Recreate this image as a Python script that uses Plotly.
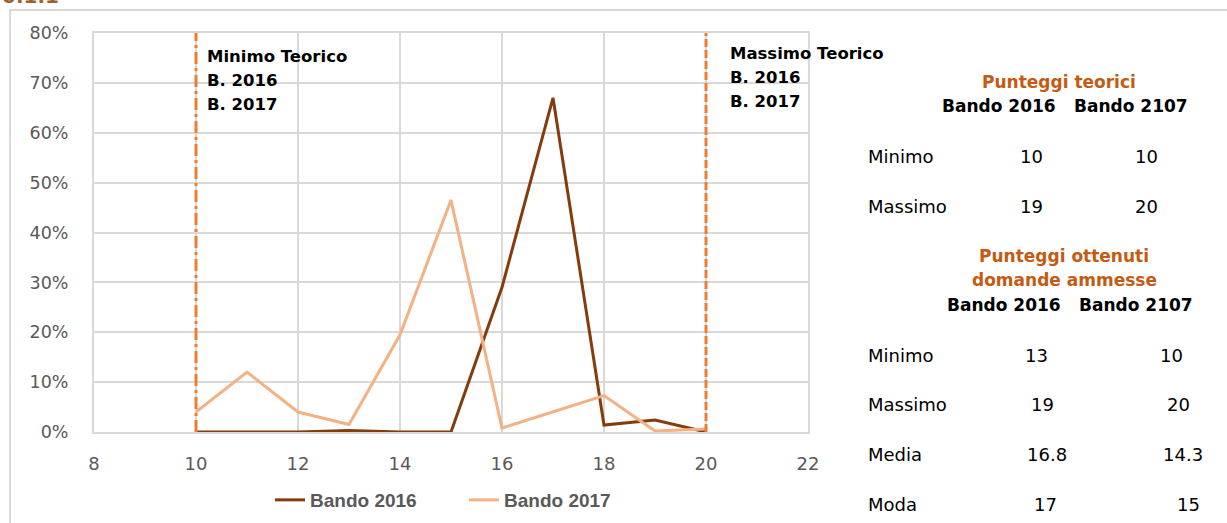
import plotly.graph_objects as go

# ---------------- data ----------------
scores = [10, 11, 12, 13, 14, 15, 16, 17, 18, 19, 20]
bando_2016 = [0.0, 0.0, 0.0, 0.003, 0.0, 0.0, 0.29, 0.67, 0.014, 0.024, 0.0]
bando_2017 = [0.04, 0.12, 0.04, 0.015, 0.195, 0.465, 0.008, 0.04, 0.073, 0.002, 0.006]

min_teorico = 10
max_teorico = 20

x_ticks = [8, 10, 12, 14, 16, 18, 20, 22]
y_ticks = [0, 0.1, 0.2, 0.3, 0.4, 0.5, 0.6, 0.7, 0.8]

min_label = ["Minimo Teorico", "B. 2016", "B. 2017"]
max_label = ["Massimo Teorico", "B. 2016", "B. 2017"]

table_cols = ["Bando 2016", "Bando 2107"]
teorici_title = ["Punteggi teorici"]
teorici_rows = ["Minimo", "Massimo"]
teorici_2016 = ["10", "19"]
teorici_2017 = ["10", "20"]
ottenuti_title = ["Punteggi ottenuti", "domande ammesse"]
ottenuti_rows = ["Minimo", "Massimo", "Media", "Moda"]
ottenuti_2016 = ["13", "19", "16.8", "17"]
ottenuti_2017 = ["10", "20", "14.3", "15"]

# ---------------- layout geometry (pixels) ----------------
W, H = 1227, 523
L, R, T, B = 94, 808, 33, 432


def px(xp):
    return (xp - L) / (R - L)


def py(yp):
    return (B - yp) / (B - T)


FONT = "DejaVu Sans"
ORANGE = "#C55A11"
fig = go.Figure()

fig.add_trace(go.Scatter(x=scores, y=bando_2016, mode="lines", name="Bando 2016",
                         line=dict(color="#843C0C", width=3)))
fig.add_trace(go.Scatter(x=scores, y=bando_2017, mode="lines", name="Bando 2017",
                         line=dict(color="#F4B183", width=3)))

# theoretical min/max lines
fig.add_shape(type="line", xref="x", yref="paper", x0=min_teorico, x1=min_teorico, y0=0, y1=1,
              line=dict(color="#ED7D31", width=3, dash="12px,4px,3px,4px"))
fig.add_shape(type="line", xref="x", yref="paper", x0=max_teorico, x1=max_teorico, y0=0, y1=1,
              line=dict(color="#ED7D31", width=3, dash="8px,3px"))

ann = []


def txt(x, y, text, size=18, color="#000000", bold=False, xanchor="center", xref="paper", xshift=0):
    ann.append(dict(x=x, y=py(y), xref=xref, yref="paper", xanchor=xanchor, yanchor="middle",
                    xshift=xshift, text=("<b>%s</b>" % text) if bold else text, showarrow=False,
                    font=dict(family=FONT, size=size, color=color)))


for i, t in enumerate(min_label):
    txt(min_teorico, 56 + i * 24, t, size=16.5, bold=True, xanchor="left", xref="x", xshift=9)
for i, t in enumerate(max_label):
    txt(max_teorico, 53 + i * 24, t, size=16.5, bold=True, xanchor="left", xref="x", xshift=22)

# right-hand tables
txt(px(1059), 82, teorici_title[0], size=17, color=ORANGE, bold=True)
txt(px(999), 106, table_cols[0], size=17, bold=True)
txt(px(1131), 106, table_cols[1], size=17, bold=True)
t_y = [156, 206]
for i, (lab, a, b) in enumerate(zip(teorici_rows, teorici_2016, teorici_2017)):
    txt(px(866), t_y[i], lab, xanchor="left")
    txt(px(1031), t_y[i], a)
    txt(px(1146), t_y[i], b)

txt(px(1064), 256, ottenuti_title[0], size=17, color=ORANGE, bold=True)
txt(px(1064), 280, ottenuti_title[1], size=17, color=ORANGE, bold=True)
txt(px(1004), 305, table_cols[0], size=17, bold=True)
txt(px(1136), 305, table_cols[1], size=17, bold=True)
o_y = [355, 404, 454, 504]
x16 = [1036, 1042, 1047, 1045]
x17 = [1171, 1178, 1183, 1188]
for i, (lab, a, b) in enumerate(zip(ottenuti_rows, ottenuti_2016, ottenuti_2017)):
    txt(px(866), o_y[i], lab, xanchor="left")
    txt(px(x16[i]), o_y[i], a)
    txt(px(x17[i]), o_y[i], b)

# clipped figure label at top-left
ann.append(dict(x=px(0), y=py(10), xref="paper", yref="paper", text="<b>0.1.1</b>", xanchor="left",
                yanchor="bottom", showarrow=False, font=dict(family=FONT, size=20, color="#A0622D")))

fig.update_layout(annotations=ann)

# outer chart frame
fig.add_shape(type="rect", xref="paper", yref="paper", x0=px(10), x1=px(1240), y0=py(10), y1=py(540),
              line=dict(color="#D9D9D9", width=2), layer="below")

fig.update_layout(
    width=W, height=H,
    margin=dict(l=L, r=W - R, t=T, b=H - B, autoexpand=False),
    paper_bgcolor="white", plot_bgcolor="white",
    showlegend=True,
    legend=dict(orientation="h", x=px(270), xanchor="left", y=py(500), yanchor="middle",
                font=dict(family="Liberation Sans", size=19, color="#595959", weight="bold"),
                entrywidth=149, bgcolor="rgba(0,0,0,0)"),
    xaxis=dict(range=[8, 22], tickvals=x_ticks, showgrid=True, gridcolor="#D9D9D9", gridwidth=2,
               zeroline=False, showline=True, linecolor="#D9D9D9", linewidth=2, mirror=True,
               tickfont=dict(family=FONT, size=18, color="#595959"), ticks="", ticklabelstandoff=14),
    yaxis=dict(range=[0, 0.8], tickvals=y_ticks, tickformat=".0%", showgrid=True, gridcolor="#D9D9D9",
               gridwidth=2, zeroline=False, showline=True, linecolor="#D9D9D9", linewidth=2, mirror=True,
               tickfont=dict(family=FONT, size=17.5, color="#595959"), ticks="", ticklabelstandoff=20),
)

fig.write_html("out.html", config={"displayModeBar": False},
               post_script="document.body.style.margin='0';document.body.style.overflow='hidden';")
